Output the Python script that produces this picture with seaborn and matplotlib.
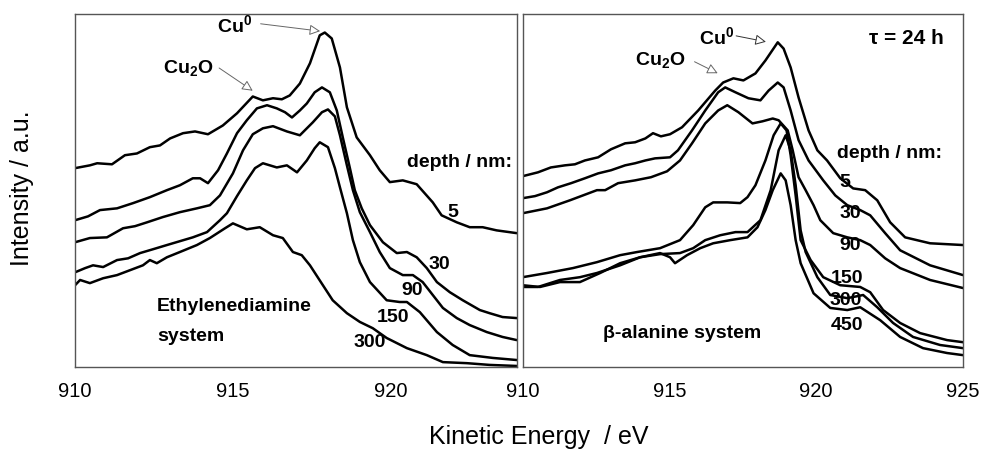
import numpy as np
import pandas as pd
import matplotlib
matplotlib.use("Agg")
import matplotlib.pyplot as plt
import seaborn as sns

# ---- Ethylenediamine system (left panel), depth in nm ----
en5_ev = [910.00, 910.47, 910.70, 911.17, 911.58, 911.96, 912.37, 912.69, 913.01, 913.42, 913.80, 914.21,
          914.68, 915.13, 915.63, 915.95, 916.27, 916.55, 916.80, 917.12, 917.44, 917.75, 917.91, 918.13,
          918.39, 918.61, 918.92, 919.34, 919.65, 919.97, 920.38, 920.82, 921.33, 921.61, 922.09, 922.50,
          922.91, 923.35, 923.99]
en5_int = [56.9, 57.7, 58.3, 58.0, 60.6, 61.1, 62.9, 63.4, 65.4, 66.9, 67.4, 66.6,
           69.1, 72.6, 77.4, 76.3, 76.9, 76.6, 77.7, 81.1, 86.9, 94.9, 95.7, 94.0,
           85.7, 74.3, 65.7, 60.6, 56.3, 52.9, 53.4, 52.3, 47.1, 43.4, 41.4, 40.0,
           40.0, 39.1, 38.3]

en30_ev = [910.00, 910.41, 910.79, 911.33, 911.84, 912.37, 912.91, 913.32, 913.73, 913.96, 914.21, 914.53,
           914.81, 915.13, 915.44, 915.76, 916.08, 916.39, 916.65, 916.87, 917.12, 917.34, 917.59, 917.82,
           918.07, 918.29, 918.48, 918.70, 918.86, 919.08, 919.34, 919.75, 920.19, 920.51, 920.82, 921.14,
           921.46, 921.87, 922.28, 922.82, 923.13, 923.54, 923.99]
en30_int = [42.0, 43.1, 44.9, 45.4, 46.9, 48.6, 50.6, 52.0, 54.0, 54.0, 52.6, 56.3,
            61.1, 66.9, 70.6, 74.0, 74.9, 74.0, 72.9, 71.4, 73.4, 75.4, 78.6, 80.0,
            78.6, 73.4, 65.7, 57.1, 50.6, 45.4, 40.6, 35.7, 32.6, 32.9, 31.4, 28.3,
            24.3, 21.4, 19.1, 16.3, 15.4, 14.3, 14.0]

en90_ev = [910.00, 910.47, 911.01, 911.52, 911.90, 912.28, 912.78, 913.32, 913.86, 914.27, 914.59, 915.00,
           915.32, 915.63, 915.95, 916.27, 916.71, 917.12, 917.53, 917.82, 918.01, 918.23, 918.39, 918.61,
           918.80, 919.02, 919.34, 919.65, 919.97, 920.38, 920.70, 921.01, 921.33, 921.65, 922.09, 922.50,
           923.04, 923.54, 923.99]
en90_int = [35.7, 36.9, 37.1, 39.7, 40.3, 41.4, 42.9, 44.3, 45.4, 46.3, 49.1, 55.4,
            62.0, 66.6, 68.3, 68.9, 67.4, 66.3, 70.0, 72.9, 73.7, 71.7, 66.3, 57.7,
            50.6, 44.3, 38.6, 32.9, 28.3, 26.3, 26.3, 24.3, 20.6, 16.9, 14.0, 12.0,
            10.0, 8.6, 7.7]

en150_ev = [910.00, 910.32, 910.57, 910.89, 911.33, 911.68, 912.06, 912.47, 912.91, 913.32, 913.73, 914.18,
            914.59, 914.81, 915.13, 915.44, 915.70, 915.95, 916.39, 916.71, 917.03, 917.34, 917.59, 917.75,
            918.01, 918.23, 918.39, 918.61, 918.80, 919.02, 919.34, 919.87, 920.28, 920.51, 920.92, 921.46,
            921.96, 922.50, 923.23, 923.99]
en150_int = [27.1, 28.3, 29.1, 28.6, 30.6, 31.1, 32.6, 33.7, 34.9, 36.0, 37.1, 38.6,
             42.0, 44.0, 48.9, 53.4, 56.9, 58.3, 57.1, 57.7, 55.7, 59.1, 62.6, 64.3,
             62.9, 56.9, 51.4, 44.0, 36.3, 30.0, 24.3, 19.1, 18.6, 18.6, 15.7, 10.0,
             6.3, 3.4, 2.6, 2.0]

en300_ev = [910.00, 910.16, 910.47, 910.89, 911.33, 911.74, 912.15, 912.37, 912.59, 912.91, 913.32, 913.86,
            914.27, 914.75, 915.00, 915.44, 915.85, 916.27, 916.58, 916.90, 917.18, 917.44, 917.85, 918.16,
            918.61, 919.02, 919.43, 919.87, 920.51, 921.14, 921.65, 922.41, 923.13, 923.99]
en300_int = [23.4, 24.9, 24.0, 25.4, 26.3, 27.7, 29.1, 30.6, 29.7, 31.4, 32.9, 34.9,
             36.9, 39.7, 41.1, 39.4, 40.0, 37.7, 36.9, 32.9, 32.0, 29.1, 23.4, 19.1,
             15.4, 12.9, 11.1, 8.3, 5.4, 3.4, 1.4, 1.1, 0.6, 0.3]

# ---- beta-alanine system (right panel) ----
ba5_ev = [910.00, 910.52, 910.96, 911.44, 911.78, 912.12, 912.57, 913.01, 913.49, 913.83, 914.18, 914.44,
          914.71, 915.02, 915.43, 915.98, 916.56, 916.83, 917.18, 917.52, 917.93, 918.27, 918.69, 918.89,
          919.13, 919.40, 919.74, 920.04, 920.37, 920.82, 921.26, 921.67, 922.08, 922.52, 923.03, 923.88,
          925.00]
ba5_int = [54.6, 55.7, 57.1, 57.7, 58.0, 59.1, 60.0, 62.3, 64.0, 64.3, 65.4, 66.9,
           66.0, 66.6, 68.6, 73.4, 79.1, 81.4, 82.6, 82.0, 84.0, 87.7, 92.9, 91.1,
           85.7, 77.1, 67.7, 62.0, 59.1, 54.0, 51.1, 50.6, 47.7, 41.4, 37.1, 35.4,
           34.9]

ba30_ev = [910.00, 910.42, 910.83, 911.20, 911.65, 912.12, 912.57, 913.01, 913.49, 913.83, 914.18, 914.51,
           915.02, 915.29, 915.77, 916.22, 916.66, 916.90, 917.25, 917.69, 918.10, 918.38, 918.69, 918.89,
           919.13, 919.40, 919.74, 920.24, 920.65, 921.06, 921.50, 921.84, 922.35, 922.86, 923.88, 925.00]
ba30_int = [48.3, 48.9, 50.0, 51.4, 52.6, 54.0, 55.4, 56.3, 57.7, 58.3, 59.1, 59.7,
            60.0, 62.0, 67.7, 73.4, 78.6, 80.0, 78.6, 76.9, 76.3, 79.1, 81.4, 80.0,
            73.4, 64.9, 59.1, 53.4, 49.1, 46.3, 44.9, 43.4, 38.3, 33.4, 29.1, 26.3]

ba90_ev = [910.00, 910.83, 911.61, 912.53, 912.81, 913.25, 913.83, 914.37, 914.92, 915.36, 915.77, 916.22,
           916.66, 916.97, 917.35, 917.83, 918.17, 918.52, 918.72, 919.03, 919.20, 919.40, 919.64, 919.91,
           920.14, 920.58, 921.06, 921.50, 921.84, 922.35, 922.86, 923.88, 925.00]
ba90_int = [44.0, 45.4, 47.7, 50.6, 50.6, 52.6, 53.4, 54.3, 56.0, 59.1, 64.0, 69.7,
            73.4, 74.9, 72.9, 69.7, 70.3, 71.1, 70.6, 67.7, 62.0, 54.3, 50.6, 46.3,
            42.0, 38.3, 37.1, 36.3, 34.9, 31.1, 28.3, 24.9, 22.6]

ba150_ev = [910.00, 910.83, 911.71, 912.53, 913.32, 913.90, 914.68, 915.36, 915.81, 916.22, 916.49, 916.97,
            917.41, 917.66, 917.93, 918.27, 918.55, 918.79, 918.99, 919.13, 919.30, 919.47, 919.81, 920.24,
            920.82, 921.50, 921.84, 922.28, 922.86, 923.54, 924.46, 925.00]
ba150_int = [25.7, 26.9, 28.3, 30.0, 32.0, 32.9, 34.0, 36.3, 40.6, 45.7, 47.1, 47.1,
             46.9, 48.6, 52.0, 59.1, 66.3, 69.7, 67.7, 60.6, 49.1, 36.3, 30.6, 25.7,
             23.4, 22.9, 21.4, 16.3, 12.6, 9.7, 7.7, 7.1]

ba300_ev = [910.00, 910.52, 911.27, 911.95, 912.53, 913.32, 914.00, 914.68, 915.36, 915.81, 916.22, 916.73,
            917.25, 917.66, 918.10, 918.45, 918.72, 918.96, 919.13, 919.30, 919.47, 919.64, 920.04, 920.48,
            921.06, 921.60, 922.08, 922.62, 923.30, 924.22, 925.00]
ba300_int = [22.9, 22.9, 24.9, 25.7, 26.9, 29.1, 31.4, 32.3, 32.6, 34.0, 36.3, 37.7,
             38.6, 38.6, 42.0, 50.6, 62.0, 66.3, 62.0, 52.0, 39.1, 32.9, 25.7, 20.6,
             19.7, 20.6, 17.1, 12.6, 8.6, 6.3, 5.4]

ba450_ev = [910.00, 910.59, 911.27, 911.95, 912.64, 913.32, 914.00, 914.68, 915.02, 915.19, 915.60, 916.05,
            916.49, 917.07, 917.66, 918.00, 918.27, 918.52, 918.79, 918.96, 919.13, 919.30, 919.47, 919.91,
            920.48, 921.06, 921.50, 922.18, 922.86, 923.64, 924.46, 925.00]
ba450_int = [23.4, 22.9, 24.3, 24.3, 26.9, 29.7, 31.4, 32.6, 31.4, 29.7, 32.0, 34.0,
             35.4, 36.3, 37.1, 40.0, 44.9, 50.6, 55.4, 53.4, 46.3, 36.3, 29.7, 21.1,
             16.9, 16.3, 17.1, 13.4, 8.6, 5.4, 4.0, 3.4]

en_depths = ["5", "30", "90", "150", "300"]
ba_depths = ["5", "30", "90", "150", "300", "450"]


def to_frame(depths, evs, ints):
    parts = []
    for d, e, i in zip(depths, evs, ints):
        parts.append(pd.DataFrame({"energy": e, "intensity": i, "depth": d}))
    return pd.concat(parts, ignore_index=True)


df_en = to_frame(en_depths, [en5_ev, en30_ev, en90_ev, en150_ev, en300_ev],
                 [en5_int, en30_int, en90_int, en150_int, en300_int])
df_ba = to_frame(ba_depths, [ba5_ev, ba30_ev, ba90_ev, ba150_ev, ba300_ev, ba450_ev],
                 [ba5_int, ba30_int, ba90_int, ba150_int, ba300_int, ba450_int])

sns.set_style("white")
plt.rcParams['font.family'] = ['Liberation Sans', 'DejaVu Sans']
plt.rcParams['text.color'] = 'black'
plt.rcParams['xtick.color'] = 'black'
plt.rcParams['mathtext.fontset'] = 'custom'
plt.rcParams['mathtext.rm'] = 'Liberation Sans'
plt.rcParams['mathtext.bf'] = 'Liberation Sans:bold'

fig = plt.figure(figsize=(9.81, 4.49), dpi=100)
ax1 = fig.add_axes([0.0765, 0.1826, 0.4506, 0.7862])
ax2 = fig.add_axes([0.5328, 0.1826, 0.4488, 0.7862])

frame_col = "#555555"
for ax, df, xmax, ticks in [(ax1, df_en, 924.0, [910, 915, 920]),
                            (ax2, df_ba, 925.0, [910, 915, 920, 925])]:
    sns.lineplot(data=df, x="energy", y="intensity", units="depth", estimator=None,
                 sort=False, color="black", lw=1.8, ax=ax)
    ax.set_xlim(910, xmax)
    ax.set_ylim(0, 101)
    ax.set_yticks([])
    ax.set_xticks(ticks)
    ax.tick_params(axis="x", direction="in", length=8, width=1, color=frame_col,
                   labelcolor="black", pad=11, labelsize=14.5)
    for s in ax.spines.values():
        s.set_color(frame_col)
        s.set_linewidth(1.0)
    ax.set_xlabel("")
    ax.set_ylabel("")

arrow_kw = dict(arrowstyle="-|>", ec="#666666", fc="white", lw=0.7, mutation_scale=16)
lab = dict(fontsize=14, fontweight="bold", va="center", color="black")

# left panel annotations
ax1.text(915.06, 97.7, r"Cu$^{\mathbf{0}}$", ha="center", **lab)
ax1.annotate("", xy=(917.85, 96.0), xytext=(915.79, 98.3), arrowprops=arrow_kw)
ax1.text(913.58, 85.4, r"Cu$_{\mathbf{2}}$O", ha="center", **lab)
ax1.annotate("", xy=(915.70, 78.6), xytext=(914.49, 86.0), arrowprops=arrow_kw)
ax1.text(923.83, 58.6, "depth / nm:", ha="right", **lab)
for d, x, y in zip(en_depths, [921.96, 921.55, 920.66, 920.06, 919.34],
                   [44.3, 29.4, 22.0, 14.3, 7.1]):
    ax1.text(x, y, d, ha="center", **lab)
ax1.text(912.59, 17.4, "Ethylenediamine", ha="left", **lab)
ax1.text(912.59, 8.6, "system", ha="left", **lab)

# right panel annotations
ax2.text(916.60, 94.3, r"Cu$^{\mathbf{0}}$", ha="center", **lab)
ax2.annotate("", xy=(918.38, 92.9), xytext=(917.18, 94.9),
             arrowprops=dict(arrow_kw, ec="#333333"))
ax2.text(914.68, 87.7, r"Cu$_{\mathbf{2}}$O", ha="center", **lab)
ax2.annotate("", xy=(916.73, 83.7), xytext=(915.77, 87.7), arrowprops=arrow_kw)
ax2.text(924.34, 94.0, "τ = 24 h", ha="right", fontsize=15, fontweight="bold",
         va="center", color="black")
ax2.text(924.30, 61.1, "depth / nm:", ha="right", **lab)
for d, x, y in zip(ba_depths, [920.99, 921.16, 921.16, 921.06, 920.99, 921.06],
                   [52.9, 44.0, 34.9, 25.4, 19.1, 12.0]):
    ax2.text(x, y, d, ha="center", **lab)
ax2.text(912.74, 9.7, "β-alanine system", ha="left", **lab)

fig.text(0.549, 1 - 437 / 449, "Kinetic Energy  / eV", ha="center", va="center", fontsize=18)
fig.text(22 / 981, 1 - 188 / 449, "Intensity / a.u.", ha="center", va="center",
         rotation=90, fontsize=18)

fig.savefig("out.png", dpi=100)
